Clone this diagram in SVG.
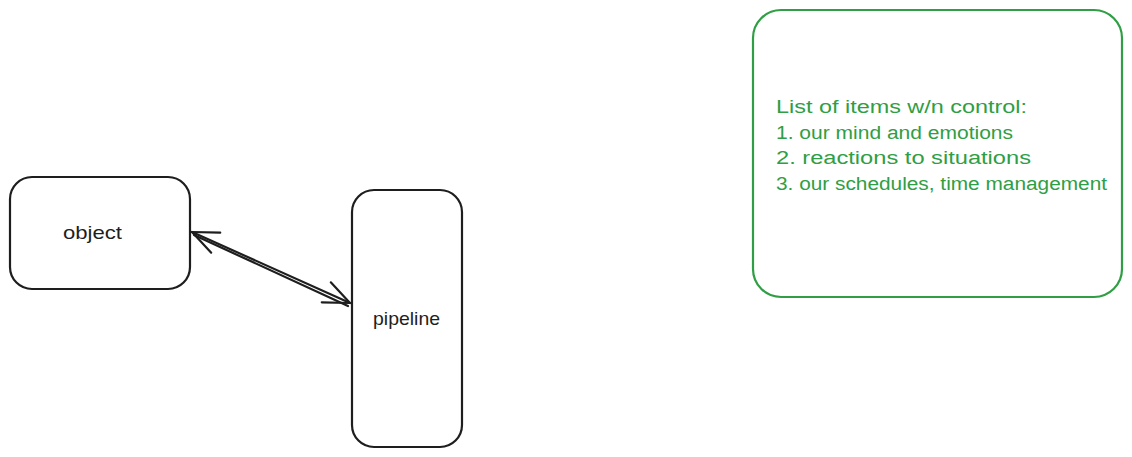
<svg xmlns="http://www.w3.org/2000/svg" width="1132" height="457" viewBox="0 0 1132 457">
<style>
.box{fill:none;stroke:#1e1e1e;stroke-width:2.2;stroke-linecap:round;stroke-linejoin:round}
.gbox{fill:none;stroke:#2f9e44;stroke-width:2.2}
.lbl{font-family:"Liberation Sans",Arial,sans-serif;font-size:19px;fill:#1e1e1e}
.glbl{font-family:"Liberation Sans",Arial,sans-serif;font-size:18px;fill:#2f9e44}
.conn{fill:none;stroke:#1e1e1e;stroke-width:2.2;stroke-linecap:round}
</style>
<defs>
<marker id="ah" markerUnits="userSpaceOnUse" markerWidth="40" markerHeight="40" refX="0" refY="0" viewBox="-30 -20 40 40" orient="auto-start-reverse" overflow="visible">
<path d="M-26,-11 L0,0 L-26,11" fill="none" stroke="#1e1e1e" stroke-width="2.2" stroke-linecap="round" stroke-linejoin="round"/>
</marker>
</defs>
<rect width="1132" height="457" fill="#ffffff"/>
<g id="node-object">
<rect class="box" x="10" y="177" width="180" height="112" rx="22" ry="22"/>
<text class="lbl" x="63" y="239" textLength="59" lengthAdjust="spacingAndGlyphs">object</text>
</g>
<g id="node-pipeline">
<rect class="box" x="352" y="190" width="110" height="257" rx="22" ry="22"/>
<text class="lbl" x="373" y="325" textLength="67" lengthAdjust="spacingAndGlyphs">pipeline</text>
</g>
<g id="node-list">
<rect class="gbox" x="753" y="10" width="369" height="287" rx="28" ry="28"/>
<text class="glbl" x="776" y="113" textLength="251" lengthAdjust="spacingAndGlyphs">List of items w/n control:</text>
<text class="glbl" x="776" y="139" textLength="237" lengthAdjust="spacingAndGlyphs">1. our mind and emotions</text>
<text class="glbl" x="776" y="164" textLength="255" lengthAdjust="spacingAndGlyphs">2. reactions to situations</text>
<text class="glbl" x="776" y="190" textLength="331" lengthAdjust="spacingAndGlyphs">3. our schedules, time management</text>
</g>
<g id="connectors">
<path class="conn" d="M192,232 L350,303" marker-start="url(#ah)" marker-end="url(#ah)"/>
<path class="conn" d="M194,235 L348,306" stroke-width="1.4"/>
</g>
</svg>
